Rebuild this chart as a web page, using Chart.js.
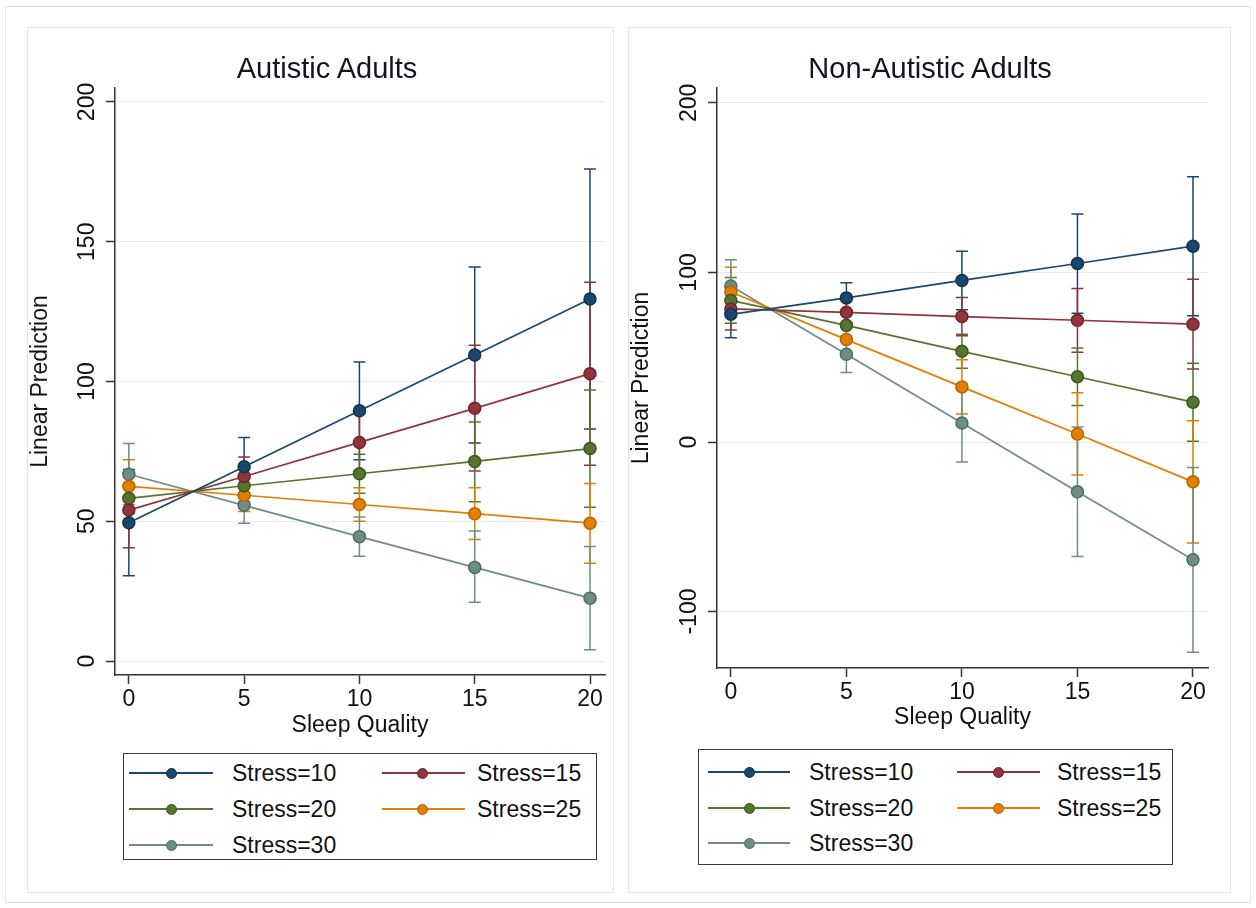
<!DOCTYPE html>
<html>
<head>
<meta charset="utf-8">
<script src="https://cdn.jsdelivr.net/npm/chart.js@4.4.1/dist/chart.umd.min.js"></script>
<style>
  body { margin: 0; background: #fff; font-family: "Liberation Sans", Arial, sans-serif; }
  #page { position: relative; width: 1256px; height: 908px; overflow: hidden; }
  .frame { position: absolute; border: 1px solid #e4e4e4; box-sizing: border-box; }
  .panel { position: absolute; }
  .title { position: absolute; font-size: 29px; color: #14141e; white-space: nowrap; transform: translate(-50%, -50%); }
  .legend { position: absolute; border: 1.5px solid #3a3a3a; box-sizing: border-box; }
  .lg-line { position: absolute; height: 2px; }
  .lg-dot { position: absolute; width: 11px; height: 11px; border-radius: 50%; box-sizing: border-box; border: 1.5px solid; }
  .lg-text { position: absolute; font-size: 23px; color: #111; line-height: 1; white-space: nowrap; transform: translateY(-50%); }
</style>
</head>
<body>
<div id="page">
  <div class="frame" style="left:5px;top:6px;width:1246px;height:897px;"></div>
  <div class="frame" style="left:27px;top:27px;width:587px;height:866px;"></div>
  <div class="frame" style="left:628px;top:27px;width:603px;height:866px;"></div>

  <canvas id="leftChart" class="panel" width="586" height="713" style="left:27px;top:27px;"></canvas>
  <canvas id="rightChart" class="panel" width="602" height="713" style="left:628px;top:27px;"></canvas>

  <div class="title" style="left:327px;top:68px;">Autistic Adults</div>
  <div class="title" style="left:930px;top:68px;">Non-Autistic Adults</div>

  <div id="leftLegend" class="legend" style="left:123px;top:753px;width:474px;height:107px;"></div>
  <div id="rightLegend" class="legend" style="left:698px;top:749px;width:475px;height:116px;"></div>
</div>

<script>
const sleepQuality = [0, 5, 10, 15, 20];
const stressLabels = ['Stress=10', 'Stress=15', 'Stress=20', 'Stress=25', 'Stress=30'];
const stressColors = ['#1a476f', '#90353b', '#55752f', '#e37e00', '#6e8e84'];
const stressBorders = ['#12324f', '#6e2429', '#3c5520', '#b86400', '#4f6b62'];

const xTicks = [0, 5, 10, 15, 20];
const yTicksAut = [0, 50, 100, 150, 200];
const yTicksNon = [-100, 0, 100, 200];

// autistic adults: predictions and 95% CI
const aut10 = [49.5, 69.5, 89.5, 109.5, 129.5];
const aut15 = [54, 66, 78.2, 90.4, 102.8];
const aut20 = [58.2, 62.7, 67, 71.4, 76];
const aut25 = [62.5, 59.3, 56, 52.7, 49.3];
const aut30 = [66.8, 55.7, 44.5, 33.5, 22.5];
const aut10Lo = [30.5, 59, 72, 78, 83];
const aut10Hi = [68.5, 80, 107, 141, 176];
const aut15Lo = [40.5, 60, 68, 68, 70];
const aut15Hi = [67.5, 73, 88.5, 113, 135.5];
const aut20Lo = [50, 57, 60, 57, 55];
const aut20Hi = [66.5, 68.5, 74, 85.5, 97];
const aut25Lo = [53, 53.5, 50, 43.5, 35];
const aut25Hi = [72, 65, 62, 62, 63.5];
const aut30Lo = [56, 49.3, 37.5, 21, 4];
const aut30Hi = [77.8, 62, 51.5, 46.5, 41];

// non-autistic adults
const non10 = [75.3, 85, 95.3, 105.3, 115.5];
const non15 = [78.5, 76.5, 74, 71.8, 69.5];
const non20 = [83.5, 68.8, 53.5, 38.5, 23.5];
const non25 = [88.5, 60.4, 32.5, 4.7, -23.5];
const non30 = [92, 51.8, 11.2, -29.4, -69.5];
const non10Lo = [61.5, 75.5, 78, 76, 74.5];
const non10Hi = [89, 94, 112.5, 134.5, 156.5];
const non15Lo = [66, 68, 62.7, 53, 43];
const non15Hi = [91, 85, 85.3, 90.6, 96];
const non20Lo = [70, 60.5, 43.5, 21.5, 0.5];
const non20Hi = [97, 77, 63.5, 55.5, 46.5];
const non25Lo = [74, 50.5, 16.5, -19.5, -59.5];
const non25Hi = [103, 70.3, 48.5, 29, 12.5];
const non30Lo = [76.5, 41, -11.8, -67.6, -124];
const non30Hi = [107.5, 62.5, 34.2, 8.8, -15];

const FONT = '"Liberation Sans", Arial, sans-serif';

// draws the CI caps behind the lines
const errorBars = {
  id: 'errorBars',
  beforeDatasetsDraw(chart) {
    const { ctx, scales: { x, y } } = chart;
    chart.data.datasets.forEach(ds => {
      ctx.save();
      ctx.strokeStyle = ds.borderColor;
      ctx.lineWidth = 1.5;
      ds.data.forEach((p, i) => {
        const px = x.getPixelForValue(p.x);
        const top = y.getPixelForValue(ds.ciHigh[i]);
        const bot = y.getPixelForValue(ds.ciLow[i]);
        ctx.beginPath();
        ctx.moveTo(px, top); ctx.lineTo(px, bot);
        ctx.moveTo(px - 6, top); ctx.lineTo(px + 6, top);
        ctx.moveTo(px - 6, bot); ctx.lineTo(px + 6, bot);
        ctx.stroke();
      });
      ctx.restore();
    });
  }
};

// stata style vertical y labels
const rotatedYLabels = {
  id: 'rotatedYLabels',
  afterDraw(chart) {
    const { ctx, scales: { y } } = chart;
    ctx.save();
    ctx.font = '23px ' + FONT;
    ctx.fillStyle = '#111';
    ctx.textAlign = 'center';
    ctx.textBaseline = 'middle';
    y.ticks.forEach(t => {
      ctx.save();
      ctx.translate(chart.chartArea.left - 27, y.getPixelForValue(t.value));
      ctx.rotate(-Math.PI / 2);
      ctx.fillText(String(t.value), 0, 0);
      ctx.restore();
    });
    ctx.restore();
  }
};

function makeDatasets(means, lows, highs) {
  return means.map((vals, k) => ({
    label: stressLabels[k],
    data: sleepQuality.map((x, i) => ({ x: x, y: vals[i] })),
    ciLow: lows[k],
    ciHigh: highs[k],
    borderColor: stressColors[k],
    backgroundColor: stressColors[k],
    pointBackgroundColor: stressColors[k],
    pointBorderColor: stressBorders[k],
    pointBorderWidth: 1.5,
    pointRadius: 6,
    borderWidth: 1.7,
    tension: 0
  }));
}

function makeChart(id, datasets, cfg) {
  return new Chart(document.getElementById(id), {
    type: 'line',
    data: { datasets: datasets },
    plugins: [errorBars, rotatedYLabels],
    options: {
      responsive: false,
      animation: false,
      layout: { padding: { top: 61, right: cfg.padRight, left: 0, bottom: 0 } },
      plugins: { legend: { display: false }, tooltip: { enabled: false } },
      scales: {
        x: {
          type: 'linear', min: -0.6, max: 20.65,
          afterBuildTicks: s => { s.ticks = xTicks.map(v => ({ value: v })); },
          afterFit: s => { s.height = cfg.xAxisHeight; },
          grid: { drawOnChartArea: false, drawTicks: true, tickLength: 9, tickColor: '#333', tickWidth: 1.5 },
          border: { color: '#333', width: 1.5 },
          ticks: { color: '#111', font: { size: 23, family: FONT }, padding: 2, maxRotation: 0 },
          title: { display: true, text: 'Sleep Quality', color: '#111', font: { size: 23, family: FONT }, padding: { top: 0, bottom: cfg.xTitlePad } }
        },
        y: {
          type: 'linear', min: cfg.yMin, max: cfg.yMax,
          afterBuildTicks: s => { s.ticks = cfg.yTicks.map(v => ({ value: v })); },
          afterFit: s => { s.width = cfg.yAxisWidth; },
          grid: { color: '#ebebeb', drawTicks: true, tickLength: 9, tickColor: '#333', tickWidth: 1.5 },
          border: { color: '#333', width: 1.5 },
          ticks: { display: false },
          title: { display: true, text: 'Linear Prediction', color: '#111', font: { size: 23, family: FONT }, padding: { top: 0, bottom: 0 } }
        }
      }
    }
  });
}

makeChart('leftChart',
  makeDatasets([aut10, aut15, aut20, aut25, aut30],
    [aut10Lo, aut15Lo, aut20Lo, aut25Lo, aut30Lo],
    [aut10Hi, aut15Hi, aut20Hi, aut25Hi, aut30Hi]),
  { yMin: -5, yMax: 205, yTicks: yTicksAut, padRight: 8, xAxisHeight: 65, yAxisWidth: 88, xTitlePad: 1 });

makeChart('rightChart',
  makeDatasets([non10, non15, non20, non25, non30],
    [non10Lo, non15Lo, non20Lo, non25Lo, non30Lo],
    [non10Hi, non15Hi, non20Hi, non25Hi, non30Hi]),
  { yMin: -133.3, yMax: 208.8, yTicks: yTicksNon, padRight: 22, xAxisHeight: 72, yAxisWidth: 89, xTitlePad: 9 });

// legend boxes, two columns
function buildLegend(id, rows, cols) {
  const box = document.getElementById(id);
  stressLabels.forEach((lab, i) => {
    const r = rows[Math.floor(i / 2)];
    const c = cols[i % 2];
    const line = document.createElement('div');
    line.className = 'lg-line';
    line.style.cssText = `left:${c.line0}px;width:${c.line1 - c.line0}px;top:${r - 1}px;background:${stressColors[i]};`;
    const dot = document.createElement('div');
    dot.className = 'lg-dot';
    dot.style.cssText = `left:${c.dot - 5.5}px;top:${r - 5.5}px;background:${stressColors[i]};border-color:${stressBorders[i]};`;
    const txt = document.createElement('div');
    txt.className = 'lg-text';
    txt.style.cssText = `left:${c.text}px;top:${r}px;`;
    txt.textContent = lab;
    box.appendChild(line); box.appendChild(dot); box.appendChild(txt);
  });
}

buildLegend('leftLegend', [19, 55, 91],
  [{ line0: 5, line1: 89, dot: 47, text: 108 }, { line0: 258, line1: 341, dot: 298, text: 353 }]);
buildLegend('rightLegend', [22, 58, 93],
  [{ line0: 9, line1: 91, dot: 50, text: 110 }, { line0: 258, line1: 341, dot: 299, text: 358 }]);
</script>
</body>
</html>
